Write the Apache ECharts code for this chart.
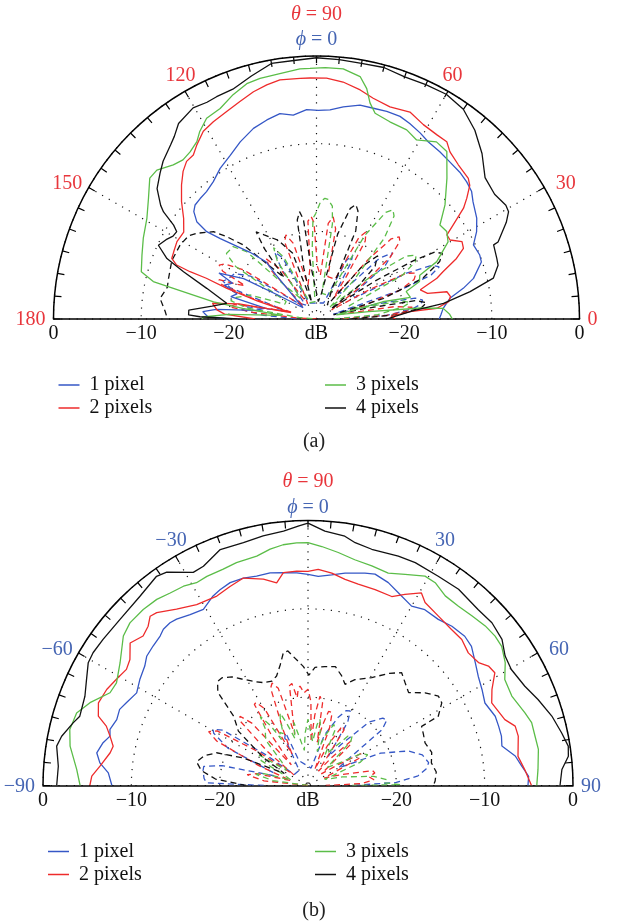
<!DOCTYPE html>
<html>
<head>
<meta charset="utf-8">
<title>Radiation patterns (a) and (b)</title>
<script src="https://cdn.jsdelivr.net/npm/echarts@6/dist/echarts.min.js"></script>
<style>
  html, body { margin: 0; padding: 0; background: #fff; }
  #main { width: 620px; height: 924px; }
</style>
</head>
<body>
<div id="main"></div>
<script>
// ---- data: [angle (deg), level (dB)] ----
// (a) theta cut, solid curves
var aBlue = [[0,-16],[2,-15.8],[4.8,-15.5],[8.8,-14.6],[11.8,-12.9],[14.5,-11.5],[19.1,-10.1],[21.4,-10],[25.3,-10.2],[28.6,-9.2],[32.2,-8.4],[36.8,-7.7],[39.4,-7.1],[42.4,-6.8],[45.7,-6.6],[49.7,-6.5],[53.6,-6.3],[57.8,-6.1],[60.9,-5.7],[64.5,-5.3],[67.6,-5.0],[71.3,-5.0],[74.9,-5.1],[78.5,-5.1],[82.8,-5.6],[86.3,-6.1],[89.5,-6.2],[92.7,-6.1],[96.5,-6.6],[100.1,-6.2],[104,-6.6],[108.3,-7.1],[113.3,-8.0],[117.8,-8.9],[122.6,-9.6],[126.9,-10.4],[130.8,-10.8],[134,-10.9],[136.8,-11],[138.8,-11.4],[140.9,-12.4],[141.5,-14],[140.1,-15.7],[135,-19.2],[131.4,-21.3],[132.6,-23.2],[140,-28],[148,-25],[151,-20.5],[154.8,-17.7],[156.9,-19.6],[159.8,-18.8],[162.5,-20.5],[165.4,-19.9],[168,-24],[172,-23],[174.5,-18.5],[176.3,-17],[178.8,-17.6],[180,-20]];
var aRed = [[0,-21],[2,-21.5],[4.5,-19.3],[5.1,-16.2],[7.5,-14.8],[9.5,-14.5],[11.8,-14.8],[13,-17],[15.7,-17.7],[18.7,-15.5],[20.5,-14.6],[23.4,-12.6],[25.7,-11.4],[28,-11.2],[30.6,-12.3],[32.8,-12.3],[34.5,-11.1],[37,-9.0],[38.8,-8.0],[41.1,-6.8],[42.8,-6.4],[47.4,-6.1],[51.4,-5.6],[53.7,-4.9],[56.8,-4.9],[61.2,-4.7],[65.7,-4.1],[70.9,-4.4],[75.6,-4.0],[79.2,-3.4],[83.6,-2.8],[87.6,-2.5],[91.5,-2.5],[93.9,-2.5],[98.7,-2.4],[102,-2.7],[105.5,-3.1],[109.4,-3.7],[113.4,-4.2],[117.6,-4.6],[121.1,-5.0],[124.5,-5.9],[126.9,-6.6],[129.5,-6.7],[132.1,-7.3],[135.2,-8.3],[139,-9.6],[142.9,-11],[146.8,-11.9],[151,-11.8],[154.8,-12],[157.3,-12.1],[158.9,-12.9],[159.5,-14.6],[159.7,-16.6],[161.1,-19.2],[163,-23],[166,-27],[169,-21],[171.4,-18],[174.8,-18.6],[177,-19.5],[180,-23]];
var aGreen = [[0,-14.5],[2,-14.8],[4.8,-15.5],[6,-18],[8,-24],[11.6,-27.7],[14.6,-22.2],[13,-19],[17,-19.3],[20,-17.5],[23,-17.2],[25.5,-14.8],[30.4,-12.6],[33.9,-12.1],[37.3,-12.3],[41.6,-10.4],[47.2,-8.1],[52.1,-5.8],[55.9,-5.6],[60.8,-6.6],[64.5,-6.1],[69.6,-6.0],[74.1,-5.6],[76.1,-4.6],[77.7,-3.1],[79.8,-1.9],[83.9,-1.3],[88,-1.3],[91.5,-1.4],[93.8,-1.4],[98.5,-1.7],[103.2,-1.8],[106.5,-2.0],[110.4,-2.7],[114.6,-3.6],[118.7,-3.9],[121.9,-4.8],[124,-5.6],[127.1,-6.1],[130,-6.3],[132.9,-6.0],[137,-5.1],[139.8,-5.1],[144.3,-6.4],[149.3,-7.5],[155,-8.2],[159.9,-8.8],[164.9,-9.3],[167.1,-10.9],[167.9,-13.3],[169,-15.7],[170.5,-18.1],[171.8,-21.5],[174,-26],[177,-20],[179,-17],[180,-17]];
var aBlack = [[0,-22],[4.9,-19],[7,-15.4],[10.1,-12.2],[13,-9.3],[16.5,-8.4],[18.6,-8.3],[22.7,-8.1],[23,-7.5],[27,-5.7],[29.2,-4.9],[31,-4.8],[35,-5.2],[40,-4.9],[45,-3.3],[50,-1.9],[55,-0.8],[60,-0.4],[65,-0.5],[70,-0.6],[75,-0.3],[80,-0.4],[85,-0.3],[90,-0.2],[95,-0.4],[100,-0.4],[105,-1.3],[110,-2.1],[114.2,-2.2],[116.8,-2.3],[120.3,-2.1],[125.2,-2.7],[127.9,-3.6],[130,-4.1],[134.2,-4.9],[137,-5.6],[140.7,-6.5],[143.9,-8],[145,-8.7],[146.7,-10.5],[148,-11.2],[150,-11.1],[152.2,-10.6],[155,-10.1],[158,-11.6],[160.4,-13.9],[164.4,-17],[170.1,-19.6],[173,-18],[176,-15.4],[178.2,-15.4],[178.9,-16.7],[180,-21]];
// (a) dashed curves
var aBlueX = [[0,-28],[3,-22],[6,-19],[8,-18],[10.1,-17.7],[12,-18.5],[14,-23],[16,-28],[19,-20],[21,-16],[23,-14.8],[25,-15.5],[27,-18.5],[29,-25],[34,-25],[38,-20],[41,-18.5],[44,-20],[47,-26],[55,-26],[58.5,-22.5],[60.5,-21.6],[63,-22.5],[66,-28],[115,-28],[119,-22],[122,-21],[125,-23],[128,-28],[140,-27],[147,-21],[151,-19.3],[155,-19],[158,-18.5],[160,-19.5],[163,-25],[166,-26],[170,-22],[173,-21.5],[176,-24],[180,-28]];
var aRedX = [[0,-27],[3,-22],[5,-19.5],[7,-19],[9,-21],[11,-27],[15,-25],[19,-20],[22,-18],[24.7,-17.5],[27,-18.5],[29,-23],[31,-28],[36,-24],[40,-19],[43,-17],[44.8,-16.7],[47,-17.5],[49,-21],[51,-27],[55,-24],[58,-19.5],[60.4,-18.6],[62.5,-19.5],[65,-25],[75,-25],[78,-19.5],[80.7,-18.2],[83,-19],[85,-25],[89,-24],[91.5,-19],[93,-18.3],[95,-18.8],[97,-24],[104,-26],[107,-21],[110,-19.8],[112.5,-20.5],[115,-26],[120,-28],[126,-23],[130,-21],[133,-22.5],[136,-28],[142,-26],[146,-20],[149,-17.8],[151,-17.3],[153,-18],[155,-21],[156.5,-20],[158,-18],[160,-18.5],[162,-22],[165,-27],[168,-24],[170,-20.5],[172,-20],[174,-22.5],[177,-28],[180,-30]];
var aGreenX = [[0,-28],[4,-23],[8,-20],[10,-19.2],[12,-20],[14,-25],[22,-26],[27,-19],[30,-17],[32.7,-16.5],[35,-17.5],[38,-22],[41,-28],[46,-24],[50,-18],[53,-15.3],[55,-14.8],[57,-15.5],[60,-19],[63,-27],[78,-27],[80.5,-19],[82,-17],[84.5,-16.3],[86,-16.2],[88,-16.6],[89.5,-17.5],[90.5,-18],[92,-18.5],[93.5,-22],[95,-28],[112,-28],[118,-22],[121,-20.5],[124,-22],[128,-27],[133,-25],[136,-19],[139,-17.4],[144,-17.3],[147,-19],[150,-26],[155,-26],[160,-22],[165,-20.5],[168,-20],[171,-22],[175,-28],[180,-30]];
var aBlackX = [[0,-26],[3,-21],[6,-18],[8.5,-17.3],[10.5,-18.5],[12,-24],[14,-28],[17,-22],[21,-17],[25,-14.5],[27.5,-13.8],[29.5,-14.5],[31,-17],[33,-22],[35,-28],[38,-24],[42,-21],[46,-20],[49,-22],[52,-28],[63,-26],[66,-19],[69,-16.8],[71,-16.2],[73,-16.8],[76,-20],[79,-27],[84,-28],[96,-24],[97.5,-18.5],[99,-17.6],[101,-18.5],[104,-24],[106,-28],[110,-22],[116,-20],[121.9,-18.7],[124.7,-17.9],[126.5,-20],[128,-24],[130,-24],[132,-21.5],[133,-20.5],[134.7,-18.1],[137.5,-16.1],[139.7,-14.6],[144.4,-13.2],[147,-12.6],[151.5,-12.3],[158,-12.2],[164.7,-12.5],[168,-12.6],[172.5,-12.0],[177,-12.7],[180,-13]];

// (b) phi cut, solid curves
var bBlue = [[-90,-7.8],[-86.4,-7.35],[-83.8,-6.3],[-81.2,-5.8],[-78.2,-6.3],[-76,-6.9],[-74.2,-6.7],[-71,-7.1],[-68,-7.0],[-65.5,-7.4],[-61.6,-7.95],[-57.8,-7.5],[-53.8,-7.1],[-51.3,-6.6],[-48,-6.4],[-44.7,-6.2],[-42.8,-5.9],[-40.3,-5.85],[-38.3,-6.0],[-34.6,-6.5],[-30.7,-6.8],[-26.6,-6.0],[-24.2,-5.7],[-21,-5.4],[-17.3,-5.4],[-13.8,-5.6],[-10.1,-5.55],[-6.6,-5.75],[-3,-5.9],[0,-6.1],[2.8,-6.3],[6.4,-6.0],[9.9,-5.6],[15,-5.1],[17.6,-4.9],[21.6,-5.3],[25.1,-5.9],[30,-6.55],[33.6,-6.1],[38.1,-6.1],[42.1,-5.7],[46.4,-5.5],[49.6,-5.7],[53.7,-6.5],[57.3,-7.1],[61.1,-7.5],[65,-7.9],[69.7,-7.4],[72.7,-7.4],[75.7,-7.4],[78.5,-7.6],[81.9,-6.3],[84.8,-5.7],[87.6,-5.0],[90,-5.1]];
var bRed = [[-90,-5.3],[-87.5,-5.5],[-84.7,-6.35],[-80.6,-7.3],[-78.6,-7.5],[-76,-6.9],[-73.6,-6.2],[-71.7,-5.0],[-68.5,-4.5],[-64.5,-4.75],[-61,-5.2],[-57.4,-5.6],[-54.7,-5.3],[-51.3,-4.2],[-47.8,-4.8],[-45.1,-4.45],[-43,-3.8],[-41.2,-4.0],[-36.7,-5.1],[-31.6,-5.95],[-25.7,-6.2],[-21.4,-5.8],[-17.3,-5.4],[-12.2,-6.1],[-8.8,-6.8],[-6.6,-5.75],[-3,-5.7],[0,-5.75],[2.7,-5.5],[6.4,-5.8],[10.2,-6.3],[14,-6.5],[18.9,-6.55],[23.9,-6.6],[26.9,-5.75],[30.5,-4.7],[32.6,-5.4],[37.6,-5.8],[42.6,-6.0],[46.5,-6.0],[50.4,-6.45],[54.2,-6.2],[56.5,-5.5],[58.9,-5.3],[62.4,-6.5],[65.8,-7.2],[71.5,-6.5],[74,-5.6],[76.8,-5.55],[82.1,-6.0],[85.8,-5.4],[90,-4.7]];
var bGreen = [[-90,-4.2],[-86,-3.75],[-80.6,-2.7],[-76.8,-2.3],[-72.6,-2.55],[-69.2,-3.6],[-64.9,-5.25],[-61.8,-5.4],[-56.9,-4.6],[-51,-3.1],[-47.6,-2.7],[-43.1,-2.7],[-39.1,-2.85],[-35.6,-3.2],[-32,-3.4],[-28.8,-3.8],[-25.8,-3.7],[-21.4,-3.7],[-17.8,-3.5],[-12.6,-3.4],[-9.1,-2.9],[-5.9,-2.6],[-2.7,-2.5],[0,-2.5],[3.3,-2.9],[7.4,-3.4],[11.7,-3.9],[16.2,-4.1],[20.7,-4.3],[24.7,-3.7],[29.2,-2.85],[32.1,-2.9],[35.9,-3.5],[40,-3.5],[44,-3.3],[48,-3.0],[51.4,-2.9],[54.3,-3.0],[58.1,-3.7],[61.7,-4.7],[66.3,-4.8],[71.5,-4.1],[74.3,-3.7],[77.7,-3.7],[81.1,-3.6],[86,-3.9],[90,-4.1]];
var bBlack = [[-90,-1.55],[-85.6,-1.65],[-81.1,-1.2],[-78.7,-1.56],[-75,-2.5],[-73.1,-3.0],[-68.2,-2.8],[-64.4,-2.2],[-60.8,-1.5],[-58.3,-1.4],[-54.5,-1.5],[-48.6,-1.6],[-41.6,-1.35],[-35.9,-0.76],[-33.5,-1.03],[-28.3,-2.6],[-25.5,-2.5],[-20.4,-1.5],[-14.9,-1.56],[-10.2,-1.3],[-5.5,-1.08],[-2,-0.6],[0,-0.3],[3.8,-1.14],[8.4,-1.47],[11,-2.0],[15.1,-2.3],[21.5,-2.1],[25.7,-2.0],[31.9,-2.1],[37.5,-2.0],[44.1,-2.3],[48.5,-2.2],[53,-2.5],[56.7,-3.3],[60.3,-3.5],[65.4,-3.0],[69.5,-2.2],[74.1,-1.3],[78.3,-0.67],[81.4,-0.2],[83.6,-0.34],[86.4,-1.2],[90,-1.47]];
// (b) dashed curves
var bBlueX = [[-90,-25],[-88.5,-18.5],[-86,-18.2],[-82,-18],[-79.6,-18],[-77,-20],[-74,-26],[-70,-26],[-65,-20],[-61,-17.8],[-59.4,-17.5],[-57,-18.5],[-54,-24],[-51,-28],[-30,-28],[-26,-24],[-23,-23.5],[-20,-27],[10,-28],[18,-24],[24,-21.5],[27,-20.5],[29.5,-20.3],[32,-21.5],[35,-26],[39,-24],[44,-20],[48,-18.6],[50.3,-18.4],[53,-19.5],[56,-24],[60,-26],[66,-21],[71,-18],[75,-16.6],[79.3,-16.1],[82,-16.5],[85,-17.5],[88,-20],[90,-25]];
var bRedX = [[-90,-30],[-84,-25],[-80,-23],[-77,-24],[-74,-28],[-68,-24],[-64,-18.5],[-61.5,-17.2],[-59,-18],[-56,-23],[-53,-28],[-50,-24],[-46.5,-19.5],[-44.5,-19],[-42,-20.5],[-39,-27],[-36,-23],[-33.5,-19],[-32,-18.9],[-29.5,-20],[-27,-26],[-24,-23],[-21,-18.2],[-19.3,-17.7],[-17,-18.5],[-14.5,-24],[-12.5,-22],[-10.5,-18.5],[-9,-18.3],[-7,-20],[-5.8,-19],[-4.6,-18.7],[-2.5,-19.5],[0,-19.1],[2,-20.5],[4,-25],[5.5,-22],[7.7,-19.8],[10,-20.5],[12,-25],[13.5,-23],[15.5,-21.3],[18.3,-21.3],[20.5,-23],[23,-28],[26,-25],[30,-22.2],[33,-22.5],[36,-28],[40,-26],[44,-23],[46,-23.2],[49,-28],[55,-26],[59,-23],[62,-23.5],[65,-28],[72,-26],[77,-22.5],[79.3,-22.3],[82,-23],[85,-22.5],[88,-24],[90,-28]];
var bGreenX = [[-90,-30],[-82,-26],[-78,-24],[-75,-24.5],[-72,-28],[-66,-27],[-62,-24],[-58,-23.5],[-55,-27],[-48,-26],[-43,-23],[-40,-22.5],[-37,-22],[-34.7,-20.5],[-32,-22],[-30,-24],[-28,-23.2],[-25.5,-23.5],[-23,-22],[-21.1,-21.2],[-19,-22.5],[-17.8,-23.3],[-15.5,-24.5],[-12.6,-22.7],[-10,-24.5],[-6,-26],[-3,-24],[0,-22.5],[3,-24],[6,-25],[8.5,-23],[10.3,-22.4],[12.5,-23.5],[15,-26],[19,-24],[23,-22.5],[26,-23],[29,-26],[34,-25],[39,-22.8],[41.7,-22.5],[44,-23],[47,-27],[53,-26],[59,-23],[62.7,-22.4],[66,-23.5],[70,-28],[76,-26],[82,-22.5],[86,-21],[88,-21.3],[89.5,-19.5],[90,-25]];
var bBlackX = [[-90,-23],[-86,-19.5],[-82,-17.8],[-78,-17.1],[-74,-17.8],[-70.3,-19],[-67,-22],[-63,-27],[-58,-24],[-52,-20],[-47,-18.5],[-45,-16.5],[-44,-15.3],[-41,-14.4],[-38.6,-14.4],[-35,-15],[-31.9,-15.8],[-27,-16.8],[-23.5,-17.3],[-19,-17.5],[-16,-17.1],[-13,-16],[-10.5,-14.7],[-8.5,-14.6],[-6.5,-15.3],[-2.3,-16.5],[0.5,-17.5],[3.4,-16.6],[8,-16.4],[13,-16.2],[17,-17],[20.1,-17.8],[23.9,-16.9],[30.6,-15.8],[36,-14.3],[39.7,-13.4],[43.4,-14.0],[47.3,-14.5],[51.6,-13.1],[55.6,-12.1],[58.3,-12.2],[62,-13.3],[62.5,-15.5],[66,-15.7],[70,-15.9],[75,-15.5],[79.6,-15.8],[84,-15.4],[88,-15.6],[90,-15.8]];

var seriesNames = ['1 pixel', '2 pixels', '3 pixels', '4 pixels'];
var lineColors = ['#3557c6', '#ee2b2b', '#5bbd48', '#111111'];
var thetaTicks = [0, 30, 60, 120, 150, 180];
var phiTicks = [-90, -60, -30, 30, 60, 90];

// ---- layout ----
var geoA = { cx: 316.5, cy: 319, r: 263 };
var geoB = { cx: 308, cy: 785.5, r: 265 };
var FONT = 'Liberation Serif';
var FS = 20;
var RED_TXT = '#e8363c', BLUE_TXT = '#4565b3';

function mkSeries(name, pts, color, dashed, pIdx) {
  return {
    type: 'line', name: name, coordinateSystem: 'polar', polarIndex: pIdx,
    data: pts.map(function (p) { return [p[1], p[0]]; }),
    symbol: 'none', smooth: false, silent: true,
    lineStyle: { color: color, width: 1.3, type: dashed ? [6, 4] : 'solid' },
    itemStyle: { color: color }, z: dashed ? 3 : 4
  };
}

// angle tick labels sit just outside the rim, nudged the way the original figure places them
function angleLabel(geo, screenDeg, text, color) {
  var rad = screenDeg * Math.PI / 180;
  var c = Math.cos(rad), s = Math.sin(rad);
  var sg = c > 0 ? 1 : -1;
  var x, y, align = 'center';
  if (Math.abs(c) > 0.99) {
    align = c > 0 ? 'left' : 'right';
    x = geo.cx + c * (geo.r + 8);
    y = geo.cy + 1;
  } else if (Math.abs(c) > 0.8) {
    x = geo.cx + c * (geo.r + 19) + 5 * sg;
    y = geo.cy - s * (geo.r + 19) + 6;
  } else {
    x = geo.cx + c * (geo.r + 19) - 5 * sg;
    y = geo.cy - s * (geo.r + 19) + 1;
  }
  return { type: 'text', x: x, y: y, silent: true,
    style: { text: text, fill: color, fontSize: FS, fontFamily: FONT,
      align: align, textAlign: align, verticalAlign: 'middle', textVerticalAlign: 'middle' } };
}

function titleText(x, y, sym, rest, color) {
  return { type: 'text', x: x, y: y, silent: true,
    style: { text: '{i|' + sym + '}{n|' + rest + '}', fill: color, fontSize: FS, fontFamily: FONT,
      align: 'center', textAlign: 'center', verticalAlign: 'middle', textVerticalAlign: 'middle',
      rich: { i: { fontStyle: 'italic', fontSize: FS, fontFamily: FONT, fill: color },
              n: { fontSize: FS, fontFamily: FONT, fill: color } } } };
}

function fmtMinus(v) { return String(v).replace('-', '\u2212'); }
function dbLabel(v) {
  if (v === 0) return 'dB';
  var a = 30 - Math.abs(v);
  return a === 0 ? '0' : '\u2212' + a;
}

var dotted = { color: '#111', width: 1.2, type: [1.2, 6.5] };

function angleAxisCfg(pIdx, min, max, start, end, cw) {
  return {
    polarIndex: pIdx, type: 'value', min: min, max: max, interval: 30,
    startAngle: start, endAngle: end, clockwise: cw,
    axisLine: { show: true, lineStyle: { color: '#000', width: 1.5 } },
    axisTick: { show: true, inside: true, length: 7, lineStyle: { color: '#000', width: 1.2 } },
    minorTick: { show: true, splitNumber: 6, length: 7, lineStyle: { color: '#000', width: 1.2 } },
    axisLabel: { show: false },
    splitLine: { show: true, lineStyle: dotted }
  };
}
function radiusAxisCfg(pIdx) {
  return {
    polarIndex: pIdx, type: 'value', min: -30, max: 0, interval: 10,
    axisLine: { show: false }, axisTick: { show: false }, axisLabel: { show: false },
    splitLine: { show: true, lineStyle: dotted }
  };
}
function xAxisCfg(gIdx) {
  return {
    gridIndex: gIdx, type: 'value', min: -30, max: 30, interval: 10,
    axisLine: { show: true, onZero: false, lineStyle: { color: '#000', width: 1.5 } },
    axisTick: { show: false }, splitLine: { show: false },
    axisLabel: { formatter: dbLabel, margin: 5, fontFamily: FONT, fontSize: FS, color: '#111' }
  };
}
function legendCfg(names, left, top) {
  return {
    data: names, orient: 'vertical', left: left, top: top, itemGap: 3,
    icon: 'rect', itemWidth: 21, itemHeight: 1.5, selectedMode: false,
    textStyle: { fontFamily: FONT, fontSize: FS, color: '#111', padding: [0, 0, 0, 5] }
  };
}

var series = [];
[aBlueX, aRedX, aGreenX, aBlackX].forEach(function (d, i) { series.push(mkSeries(seriesNames[i] + ' (dashed)', d, lineColors[i], true, 0)); });
[aBlue, aRed, aGreen, aBlack].forEach(function (d, i) { series.push(mkSeries(seriesNames[i], d, lineColors[i], false, 0)); });
[bBlueX, bRedX, bGreenX, bBlackX].forEach(function (d, i) { series.push(mkSeries(seriesNames[i] + ' (dashed)', d, lineColors[i], true, 1)); });
[bBlue, bRed, bGreen, bBlack].forEach(function (d, i) { series.push(mkSeries(seriesNames[i], d, lineColors[i], false, 1)); });

var graphics = [];
thetaTicks.forEach(function (t) { graphics.push(angleLabel(geoA, t, String(t), RED_TXT)); });
phiTicks.forEach(function (p) { graphics.push(angleLabel(geoB, 90 - p, fmtMinus(p), BLUE_TXT)); });
graphics.push(titleText(geoA.cx, 15, '\u03b8', ' = 90', RED_TXT));
graphics.push(titleText(geoA.cx, 40, '\u03d5', ' = 0', BLUE_TXT));
graphics.push(titleText(geoB.cx, 482, '\u03b8', ' = 90', RED_TXT));
graphics.push(titleText(geoB.cx, 508, '\u03d5', ' = 0', BLUE_TXT));
graphics.push({ type: 'text', x: 314, y: 442, silent: true, style: { text: '(a)', fill: '#222', fontSize: FS, fontFamily: FONT, align: 'center', textAlign: 'center', verticalAlign: 'middle', textVerticalAlign: 'middle' } });
graphics.push({ type: 'text', x: 314, y: 911, silent: true, style: { text: '(b)', fill: '#222', fontSize: FS, fontFamily: FONT, align: 'center', textAlign: 'center', verticalAlign: 'middle', textVerticalAlign: 'middle' } });

var chart = echarts.init(document.getElementById('main'), null, { renderer: 'canvas' });
chart.setOption({
  animation: false,
  backgroundColor: '#fff',
  color: lineColors,
  polar: [
    { center: [geoA.cx, geoA.cy], radius: geoA.r },
    { center: [geoB.cx, geoB.cy], radius: geoB.r }
  ],
  angleAxis: [
    angleAxisCfg(0, 0, 180, 0, 180, false),
    angleAxisCfg(1, -90, 90, 180, 0, true)
  ],
  radiusAxis: [radiusAxisCfg(0), radiusAxisCfg(1)],
  grid: [
    { left: geoA.cx - geoA.r, width: 2 * geoA.r, top: geoA.cy - 2, height: 2 },
    { left: geoB.cx - geoB.r, width: 2 * geoB.r, top: geoB.cy - 2, height: 2 }
  ],
  xAxis: [xAxisCfg(0), xAxisCfg(1)],
  yAxis: [
    { gridIndex: 0, type: 'value', min: 0, max: 1, show: false },
    { gridIndex: 1, type: 'value', min: 0, max: 1, show: false }
  ],
  legend: [
    legendCfg(['1 pixel', '2 pixels'], geoA.cx - geoA.r, 370),
    legendCfg(['3 pixels', '4 pixels'], 320, 370),
    legendCfg(['1 pixel', '2 pixels'], geoB.cx - geoB.r, 836.5),
    legendCfg(['3 pixels', '4 pixels'], 310, 836.5)
  ],
  graphic: { elements: graphics },
  series: series
});
</script>
</body>
</html>
